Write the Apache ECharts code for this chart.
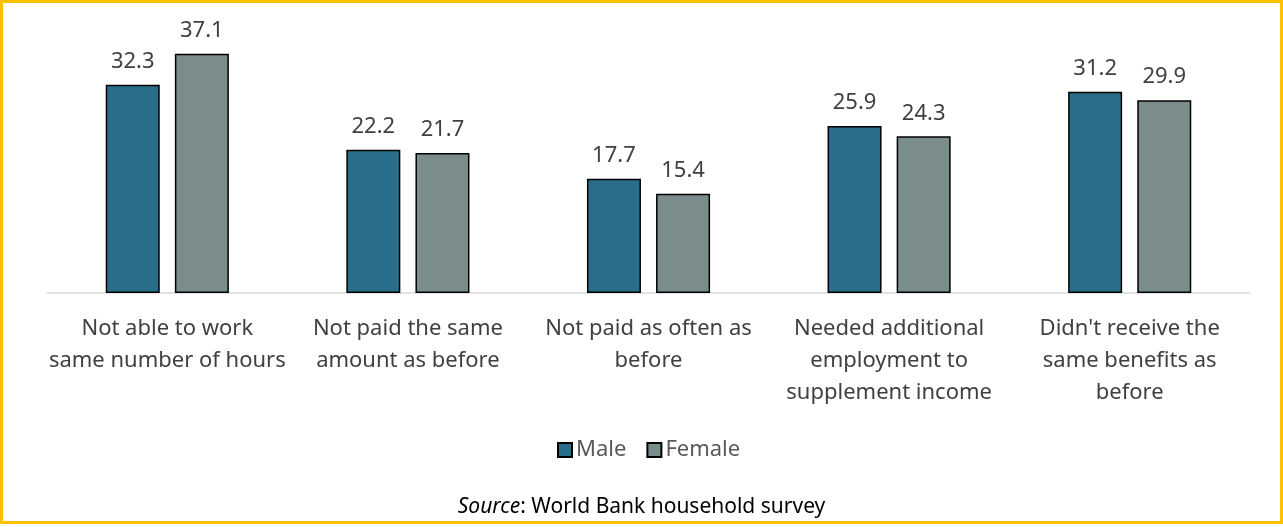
<!DOCTYPE html>
<html><head><meta charset="utf-8">
<script src="https://cdn.jsdelivr.net/npm/echarts@6/dist/echarts.min.js"></script>
<style>
html,body{margin:0;padding:0;background:#fff;}
#wrap{position:absolute;left:0;top:0;width:1283px;height:524px;border:3px solid #FFC000;box-sizing:border-box;}
#chart{position:absolute;left:0;top:0;width:1283px;height:524px;}
</style></head>
<body>
<div id="wrap"></div>
<div id="chart"></div>
<script>
const categories = ["Not able to work\nsame number of hours","Not paid the same\namount as before","Not paid as often as\nbefore","Needed additional\nemployment to\nsupplement income","Didn't receive the\nsame benefits as\nbefore"];
const maleValues = [32.3, 22.2, 17.7, 25.9, 31.2];
const femaleValues = [37.1, 21.7, 15.4, 24.3, 29.9];
const seriesNames = ["Male","Female"];
const FONT = "'Noto Sans', 'Open Sans', sans-serif";
const chart = echarts.init(document.getElementById('chart'), null, {renderer:'canvas'});
chart.setOption({
  animation:false,
  textStyle:{fontFamily:FONT},
  grid:{left:47,right:33,top:35,height:258,containLabel:false},
  legend:{
    data:seriesNames, top:439, left:557, padding:0, itemWidth:14, itemHeight:14, itemGap:20,
    icon:'rect',
    textStyle:{fontSize:22,color:'#595959',fontFamily:FONT, padding:[0,0,0,-1]}
  },
  title:{
    text:'{i|Source}: World Bank household survey', left:'center', top:492,
    textStyle:{fontSize:21,color:'#000',fontWeight:'normal',fontFamily:FONT,
      rich:{i:{fontStyle:'italic',fontSize:21,color:'#000',fontFamily:FONT}}}
  },
  xAxis:{
    type:'category', data:categories,
    axisLine:{lineStyle:{color:'#d9d9d9',width:1.5}},
    axisTick:{show:false},
    axisLabel:{fontSize:22,color:'#404040',lineHeight:32,margin:20,interval:0,fontFamily:FONT}
  },
  yAxis:{type:'value',min:0,max:40,show:false,splitLine:{show:false}},
  series:[
    {name:'Male',type:'bar',data:maleValues,barWidth:54,barGap:'28%',
     itemStyle:{color:'#286E8A',borderColor:'#000',borderWidth:1.5},
     label:{show:true,position:'top',distance:12,fontSize:22,color:'#404040',fontFamily:FONT,formatter:p=>p.value.toFixed(1)}},
    {name:'Female',type:'bar',data:femaleValues,barWidth:54,
     itemStyle:{color:'#7A8C8C',borderColor:'#000',borderWidth:1.5},
     label:{show:true,position:'top',distance:12,fontSize:22,color:'#404040',fontFamily:FONT,formatter:p=>p.value.toFixed(1)}}
  ]
});
</script>
</body></html>
